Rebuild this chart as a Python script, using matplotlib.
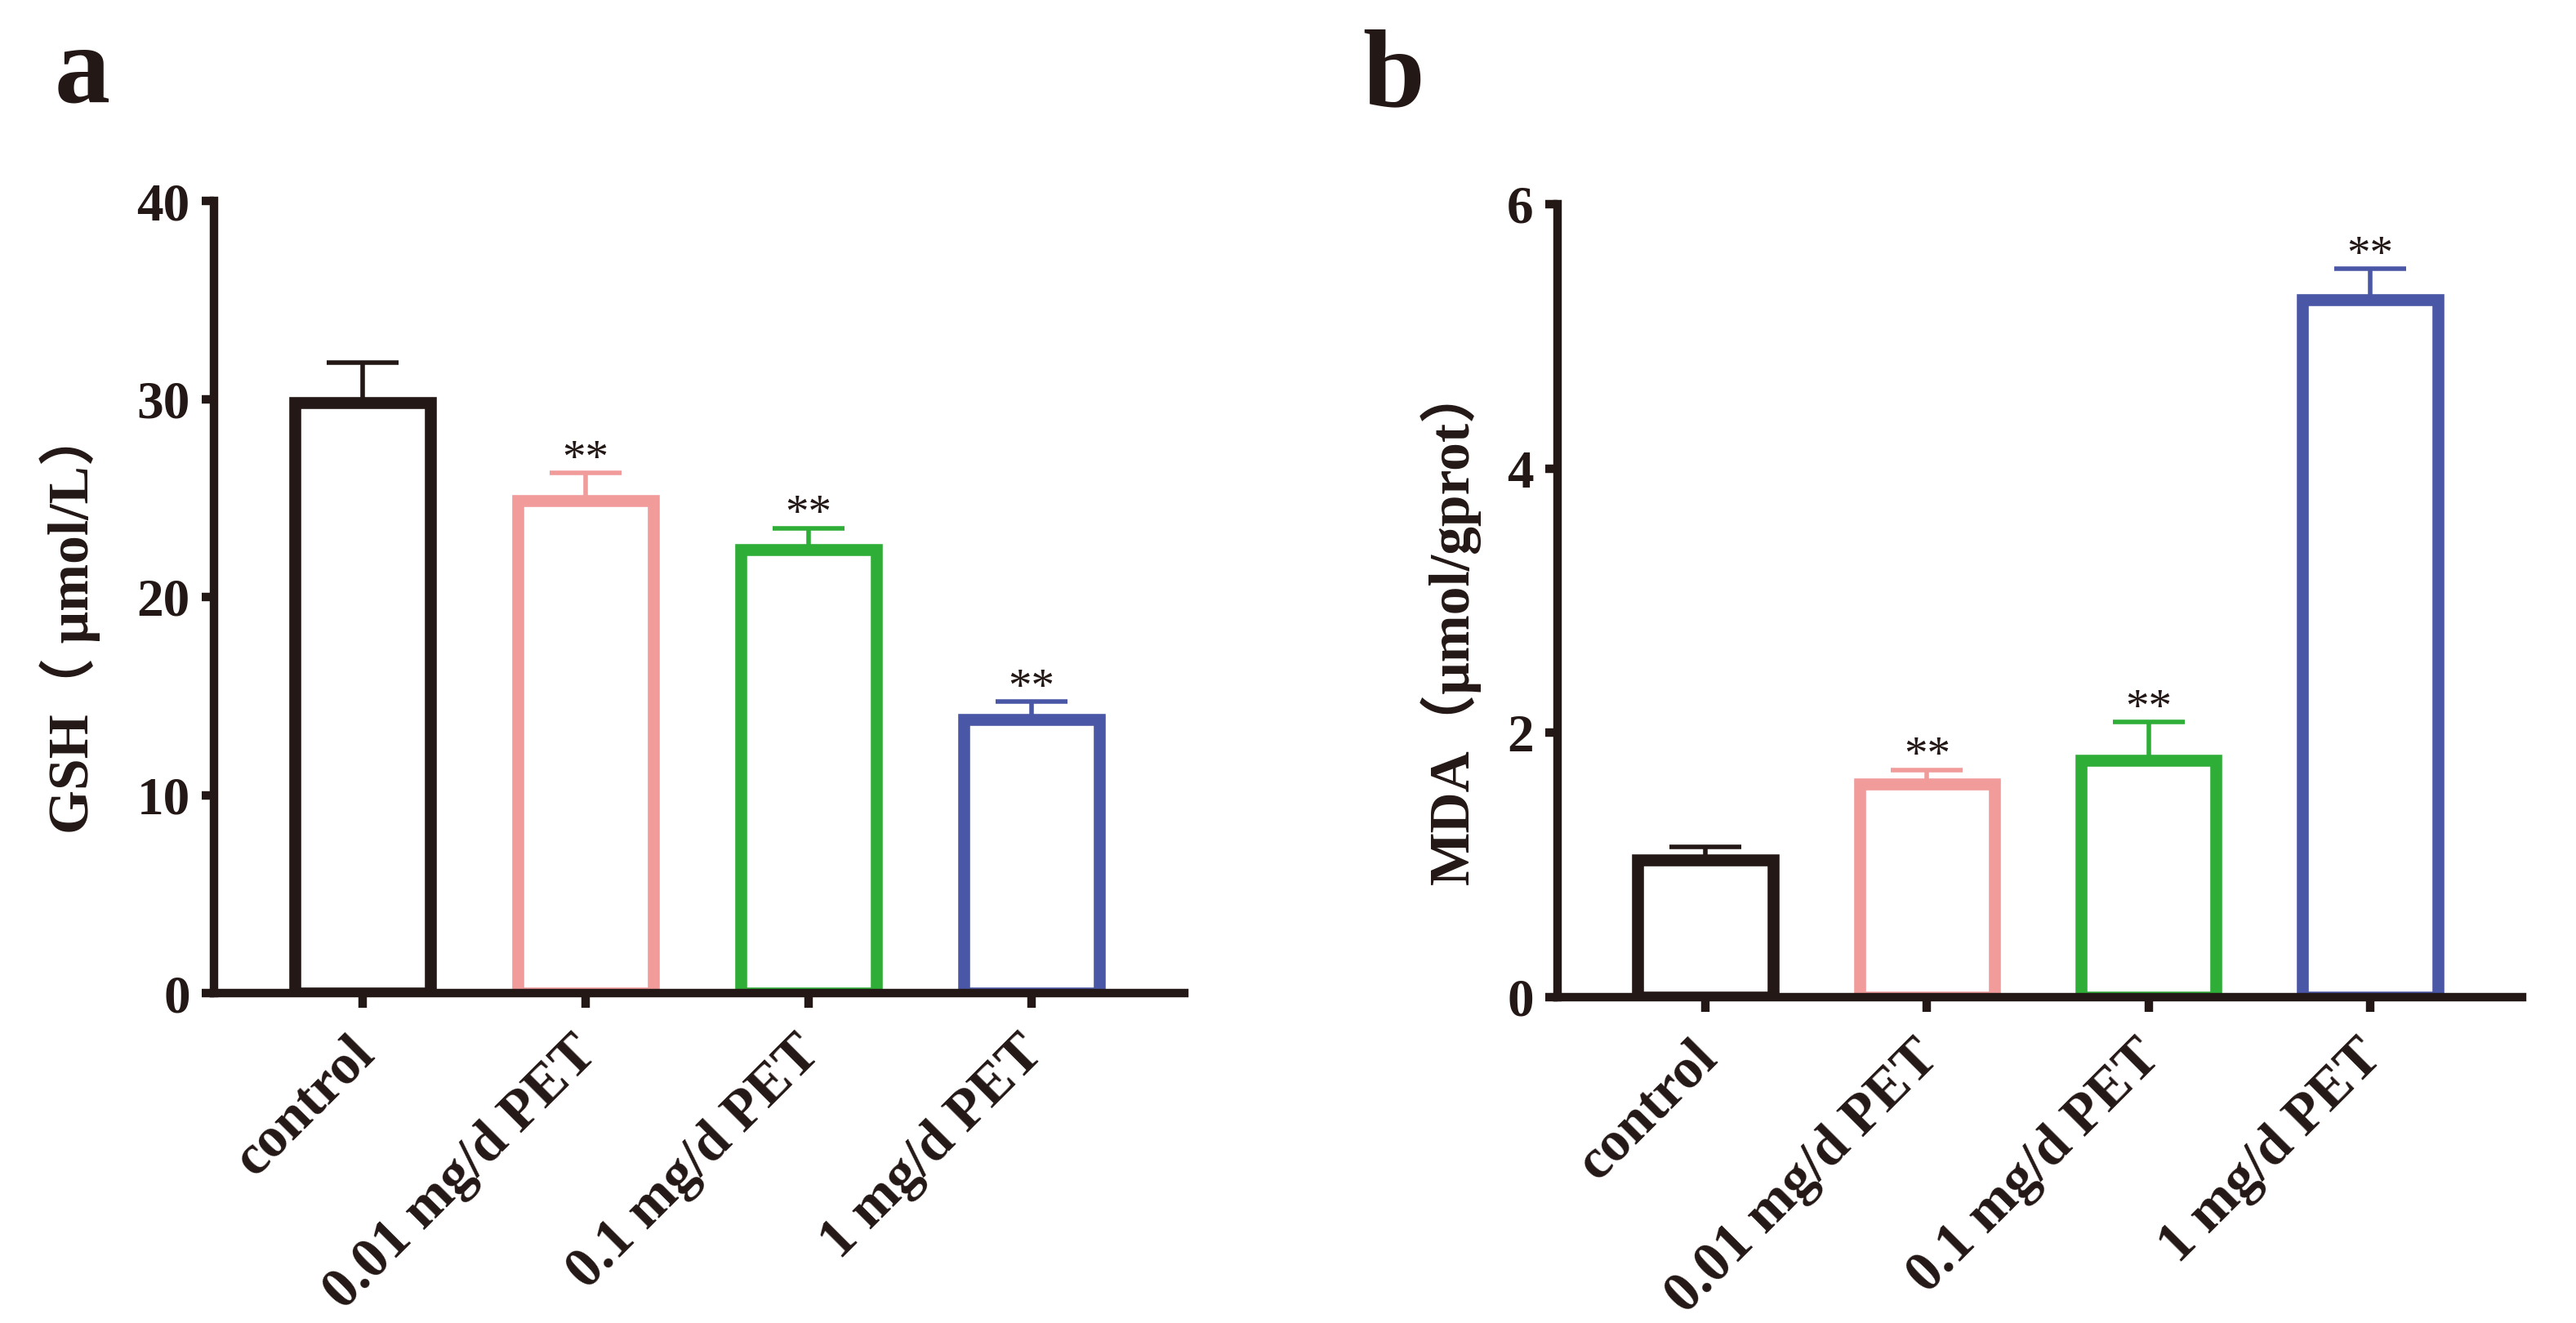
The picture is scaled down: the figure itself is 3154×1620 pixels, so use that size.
import matplotlib
matplotlib.use('Agg')
import matplotlib.pyplot as plt
import matplotlib.transforms as mtransforms
import numpy as np

# ---------------- data ----------------
categories = ['control', '0.01 mg/d PET', '0.1 mg/d PET', '1 mg/d PET']
gsh_mean = [29.8, 24.85, 22.4, 13.8]
gsh_err = [2.04, 1.42, 1.07, 0.92]
gsh_sig = ['', '**', '**', '**']
gsh_ticks = [0, 10, 20, 30, 40]

mda_mean = [1.04, 1.61, 1.79, 5.28]
mda_err = [0.10, 0.11, 0.29, 0.23]
mda_sig = ['', '**', '**', '**']
mda_ticks = [0, 2, 4, 6]

bar_colors = ['#231815', '#F19B9B', '#2EAE37', '#4A57A6']
ink = '#231815'

plt.rcParams['font.family'] = ['Liberation Serif', 'Noto Sans CJK SC']
plt.rcParams['font.weight'] = 'bold'
plt.rcParams['axes.labelweight'] = 'bold'

W, H = 3154, 1620
fig = plt.figure(figsize=(W / 100, H / 100), dpi=100)
fig.patch.set_facecolor('white')


def draw_panel(rect, means, errs, sig, ticks, ylabel, ylab_xy):
    ax = fig.add_axes(rect)
    x = np.arange(len(categories))
    for i in range(len(categories)):
        ax.errorbar(x[i], means[i], yerr=[[0], [errs[i]]], fmt='none',
                    ecolor=bar_colors[i], elinewidth=4, capsize=32,
                    capthick=4, zorder=2)
    ax.bar(x, means, width=0.61, facecolor='white', edgecolor=bar_colors,
           linewidth=10.5, zorder=3)
    for i in range(len(categories)):
        if sig[i]:
            ax.annotate(sig[i], (x[i], means[i] + errs[i]),
                        xytext=(0, 1), textcoords='offset points',
                        ha='center', va='baseline', fontsize=41,
                        fontweight='normal', color=ink, zorder=4)
    ax.set_xlim(-0.667, 3.686)
    ax.set_ylim(ticks[0], ticks[-1])
    ax.set_yticks(ticks)
    ax.set_xticks(x)
    ax.set_xticklabels(categories, rotation=45, ha='right', va='top',
                       rotation_mode='anchor')
    for sp in ['top', 'right']:
        ax.spines[sp].set_visible(False)
    for sp in ['left', 'bottom']:
        ax.spines[sp].set_linewidth(7.5)
        ax.spines[sp].set_color(ink)
        ax.spines[sp].set_zorder(5)
    ax.tick_params(axis='y', length=11, width=7.5, pad=10, labelsize=47,
                   color=ink, labelcolor=ink)
    ax.tick_params(axis='x', length=13, width=7.5, pad=17, labelsize=50,
                   color=ink, labelcolor=ink)
    off = mtransforms.ScaledTranslation(-13 / 72, 0, fig.dpi_scale_trans)
    for lab in ax.get_xticklabels():
        lab.set_transform(lab.get_transform() + off)
    ax.set_ylabel(ylabel, fontsize=50, fontweight='bold', color=ink)
    ax.yaxis.set_label_coords(*ylab_xy)
    ax.patch.set_alpha(0)
    return ax


ax_a = draw_panel([262 / W, 1 - 1216 / H, 1188 / W, 970 / H],
                  gsh_mean, gsh_err, gsh_sig, gsh_ticks,
                  'GSH（ μmol/L）', (-0.117, 0.469))
ax_b = draw_panel([1907 / W, 1 - 1221 / H, 1181 / W, 971 / H],
                  mda_mean, mda_err, mda_sig, mda_ticks,
                  'MDA（μmol/gprot）', (-0.080, 0.47))

fig.text(67 / W, 1 - 125 / H, 'a', fontsize=98, fontweight='bold',
         color=ink, va='baseline', ha='left')
fig.text(1668 / W, 1 - 129 / H, 'b', fontsize=98, fontweight='bold',
         color=ink, va='baseline', ha='left')

fig.savefig('out.png', dpi=100, facecolor='white')
